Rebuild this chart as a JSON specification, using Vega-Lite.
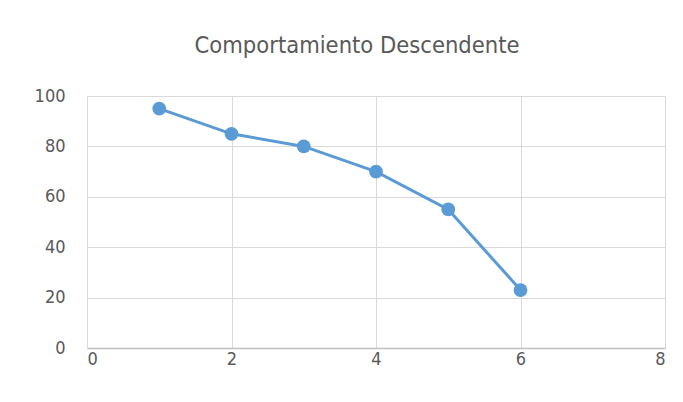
{
  "$schema": "https://vega.github.io/schema/vega-lite/v6.json",
  "autosize": {"type": "none"},
  "width": 578,
  "height": 252,
  "padding": {"left": 87, "top": 96, "right": 18, "bottom": 54},
  "background": "white",
  "title": {
    "text": "Comportamiento Descendente",
    "font": "DejaVu Sans Condensed",
    "fontSize": 23.5,
    "fontWeight": "normal",
    "color": "#595959",
    "anchor": "middle",
    "dx": -19,
    "offset": 30
  },
  "data": {
    "values": [
      {"x": 1, "y": 95},
      {"x": 2, "y": 85},
      {"x": 3, "y": 80},
      {"x": 4, "y": 70},
      {"x": 5, "y": 55},
      {"x": 6, "y": 23}
    ]
  },
  "mark": {"type": "line", "color": "#5B9BD5", "strokeWidth": 3, "point": {"filled": true, "size": 190, "color": "#5B9BD5", "opacity": 1}},
  "encoding": {
    "x": {
      "field": "x", "type": "quantitative",
      "scale": {"domain": [0, 8], "nice": false},
      "axis": {"values": [0, 2, 4, 6, 8], "title": null, "ticks": false, "domain": true, "domainColor": "#bfbfbf", "domainWidth": 1.5, "grid": true, "gridColor": "#d9d9d9", "labelFont": "DejaVu Sans Condensed", "labelFontSize": 18, "labelColor": "#595959", "labelPadding": 2}
    },
    "y": {
      "field": "y", "type": "quantitative",
      "scale": {"domain": [0, 100], "nice": false},
      "axis": {"values": [0, 20, 40, 60, 80, 100], "title": null, "ticks": false, "domain": false, "grid": true, "gridColor": "#d9d9d9", "labelFont": "DejaVu Sans Condensed", "labelFontSize": 18, "labelColor": "#595959", "labelPadding": 22}
    }
  },
  "config": {"view": {"stroke": null}}
}
